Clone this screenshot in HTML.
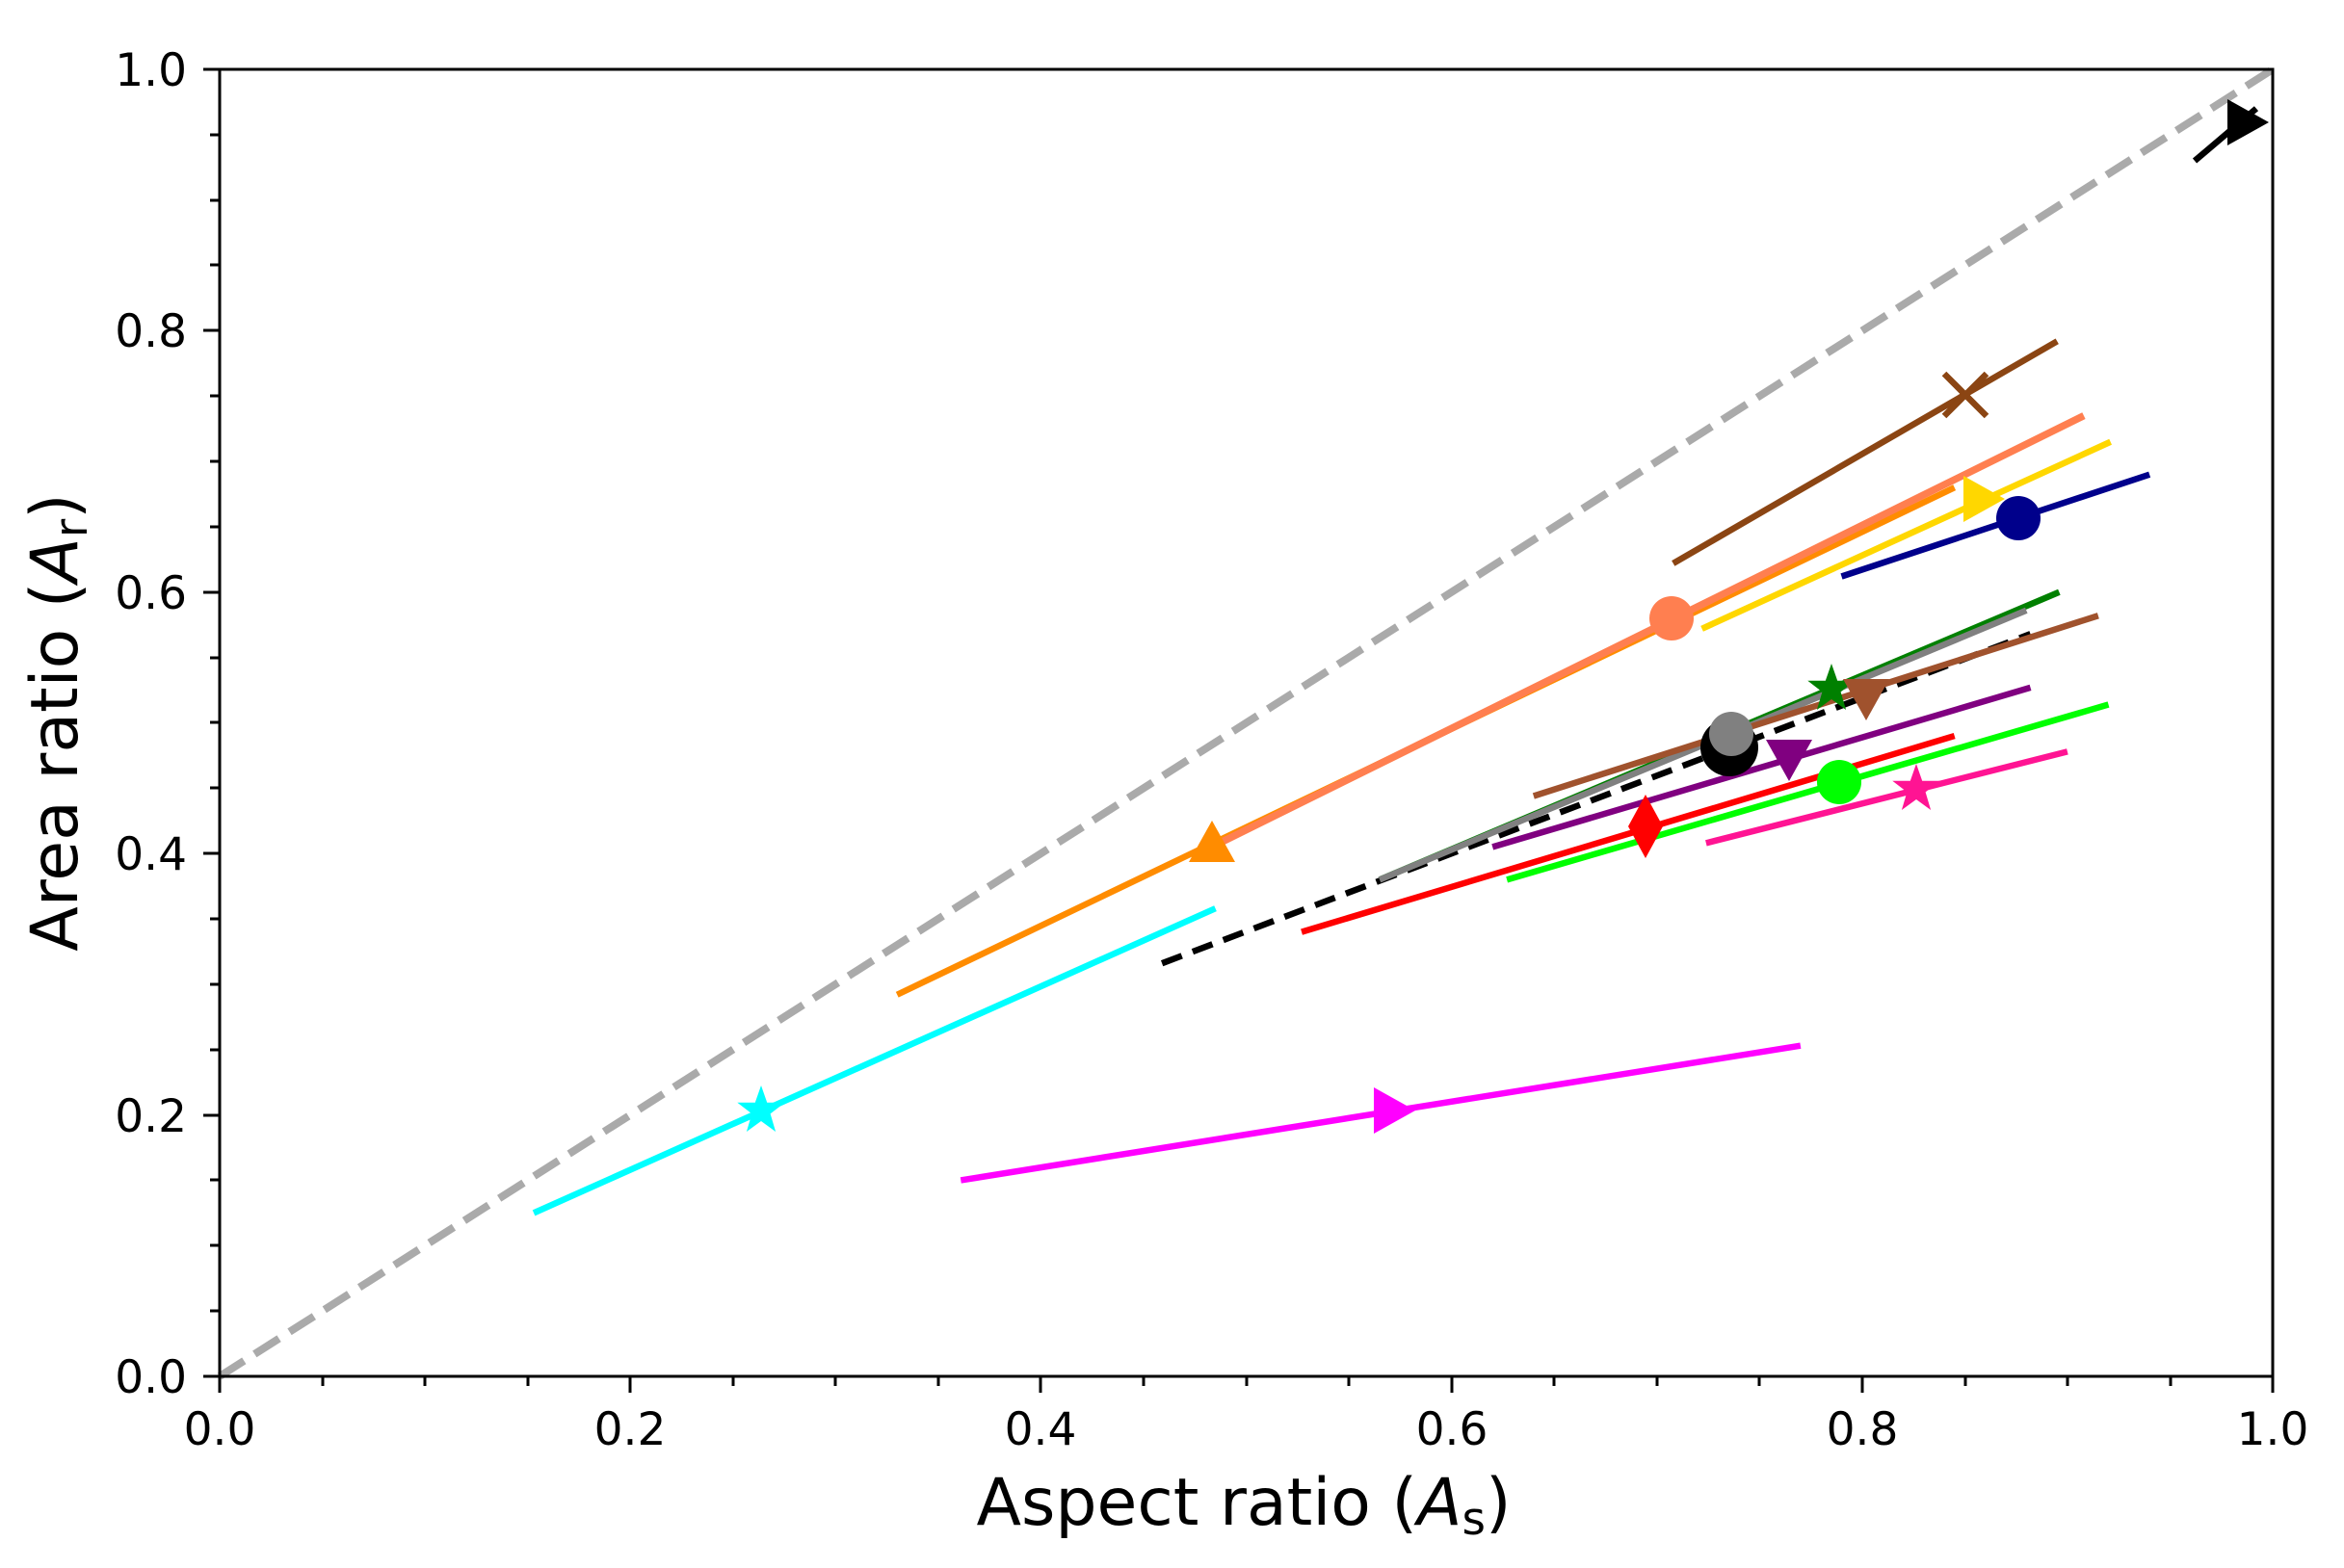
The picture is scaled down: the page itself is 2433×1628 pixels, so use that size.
<!DOCTYPE html>
<html><head><meta charset="utf-8"><style>
html,body{margin:0;padding:0;background:#fff}
svg{display:block}
text{font-family:"DejaVu Sans","Liberation Sans",sans-serif;fill:#000}
</style></head><body>
<svg width="2433" height="1628" viewBox="0 0 2433 1628" xmlns="http://www.w3.org/2000/svg">
<defs>
<g id="circ"><circle r="23"/></g>
<g id="tri"><polygon points="0,-26 24,17 -24,17"/></g>
<g id="tridn"><polygon points="0,26 24,-17 -24,-17"/></g>
<g id="trir"><polygon points="26,0 -17,-24 -17,24"/></g>
<g id="star"><polygon points="0,-26 6.2,-8.3 24.7,-8.3 9.6,3.4 15.1,22 0,11 -15.1,22 -9.6,3.4 -24.7,-8.3 -6.2,-8.3"/></g>
<g id="diam"><polygon points="0,-33 18,0 0,33 -18,0"/></g>
</defs>
<g transform="translate(228,1429) scale(2131,-1357)" fill="none" stroke-linecap="butt">
<line x1="0" y1="0" x2="0.999" y2="0.999" stroke="#aaaaaa" stroke-width="8" stroke-dasharray="30,13" vector-effect="non-scaling-stroke"/>
<line x1="0.153" y1="0.125" x2="0.485" y2="0.358" stroke="#00ffff" vector-effect="non-scaling-stroke" stroke-width="6.5"/>
<line x1="0.361" y1="0.150" x2="0.770" y2="0.253" stroke="#ff00ff" vector-effect="non-scaling-stroke" stroke-width="6.5"/>
<line x1="0.330" y1="0.292" x2="0.845" y2="0.680" stroke="#ff8c00" vector-effect="non-scaling-stroke" stroke-width="6.5"/>
<line x1="0.487" y1="0.408" x2="0.908" y2="0.735" stroke="#ff7f50" vector-effect="non-scaling-stroke" stroke-width="7.5"/>
<line x1="0.708" y1="0.622" x2="0.895" y2="0.792" stroke="#8b4513" vector-effect="non-scaling-stroke" stroke-width="6.5"/>
<line x1="0.722" y1="0.572" x2="0.921" y2="0.715" stroke="#ffd700" vector-effect="non-scaling-stroke" stroke-width="6.5"/>
<line x1="0.790" y1="0.612" x2="0.940" y2="0.690" stroke="#00008b" vector-effect="non-scaling-stroke" stroke-width="6.5"/>
<line x1="0.565" y1="0.380" x2="0.896" y2="0.600" stroke="#008000" vector-effect="non-scaling-stroke" stroke-width="6.5"/>
<line x1="0.459" y1="0.316" x2="0.882" y2="0.568" stroke="#000" stroke-dasharray="22,12" vector-effect="non-scaling-stroke" stroke-width="6.5"/>
<line x1="0.565" y1="0.380" x2="0.880" y2="0.586" stroke="#808080" vector-effect="non-scaling-stroke" stroke-width="6.5"/>
<line x1="0.640" y1="0.444" x2="0.915" y2="0.582" stroke="#a0522d" vector-effect="non-scaling-stroke" stroke-width="6.5"/>
<line x1="0.620" y1="0.405" x2="0.882" y2="0.527" stroke="#800080" vector-effect="non-scaling-stroke" stroke-width="6.5"/>
<line x1="0.527" y1="0.340" x2="0.845" y2="0.490" stroke="#ff0000" vector-effect="non-scaling-stroke" stroke-width="6.5"/>
<line x1="0.627" y1="0.380" x2="0.920" y2="0.514" stroke="#00ff00" vector-effect="non-scaling-stroke" stroke-width="6.5"/>
<line x1="0.724" y1="0.408" x2="0.900" y2="0.478" stroke="#ff1493" vector-effect="non-scaling-stroke" stroke-width="6.5"/>
<line x1="0.962" y1="0.930" x2="0.992" y2="0.970" stroke="#000" vector-effect="non-scaling-stroke" stroke-width="6.5"/>
</g>
<use href="#star" x="790" y="1153" fill="#00ffff"/>
<use href="#trir" x="1443" y="1153" fill="#ff00ff"/>
<use href="#tri" x="1258" y="878" fill="#ff8c00"/>
<use href="#circ" x="1735" y="642" fill="#ff7f50"/>
<g transform="translate(2040,410)" stroke="#8b4513" stroke-width="6.5"><line x1="-22" y1="-22" x2="22" y2="22"/><line x1="-22" y1="22" x2="22" y2="-22"/></g>
<use href="#trir" x="2055" y="518" fill="#ffd700"/>
<use href="#circ" x="2095" y="538" fill="#00008b"/>
<use href="#star" x="1901" y="715" fill="#008000"/>
<circle cx="1795" cy="776" r="30" fill="#000"/>
<use href="#circ" x="1797" y="762" fill="#808080"/>
<use href="#tridn" x="1937" y="722" fill="#a0522d"/>
<use href="#tridn" x="1857" y="785" fill="#800080"/>
<use href="#diam" x="1708" y="858" fill="#ff0000"/>
<use href="#circ" x="1909" y="812" fill="#00ff00"/>
<use href="#star" x="1989" y="819" fill="#ff1493"/>
<use href="#trir" x="2329" y="127" fill="#000"/>
<rect x="228" y="72" width="2131" height="1357" fill="none" stroke="#000" stroke-width="3"/>
<g stroke="#000" stroke-width="3">
<line x1="228" y1="1429" x2="228" y2="1446"/><line x1="654" y1="1429" x2="654" y2="1446"/><line x1="1080" y1="1429" x2="1080" y2="1446"/><line x1="1507" y1="1429" x2="1507" y2="1446"/><line x1="1933" y1="1429" x2="1933" y2="1446"/><line x1="2359" y1="1429" x2="2359" y2="1446"/>
<line x1="335" y1="1429" x2="335" y2="1439"/><line x1="441" y1="1429" x2="441" y2="1439"/><line x1="548" y1="1429" x2="548" y2="1439"/><line x1="761" y1="1429" x2="761" y2="1439"/><line x1="867" y1="1429" x2="867" y2="1439"/><line x1="974" y1="1429" x2="974" y2="1439"/><line x1="1187" y1="1429" x2="1187" y2="1439"/><line x1="1294" y1="1429" x2="1294" y2="1439"/><line x1="1400" y1="1429" x2="1400" y2="1439"/><line x1="1613" y1="1429" x2="1613" y2="1439"/><line x1="1720" y1="1429" x2="1720" y2="1439"/><line x1="1826" y1="1429" x2="1826" y2="1439"/><line x1="2040" y1="1429" x2="2040" y2="1439"/><line x1="2146" y1="1429" x2="2146" y2="1439"/><line x1="2253" y1="1429" x2="2253" y2="1439"/>
<line x1="211" y1="1429" x2="228" y2="1429"/><line x1="211" y1="1158" x2="228" y2="1158"/><line x1="211" y1="886" x2="228" y2="886"/><line x1="211" y1="615" x2="228" y2="615"/><line x1="211" y1="343" x2="228" y2="343"/><line x1="211" y1="72" x2="228" y2="72"/>
<line x1="218" y1="1361" x2="228" y2="1361"/><line x1="218" y1="1293" x2="228" y2="1293"/><line x1="218" y1="1225" x2="228" y2="1225"/><line x1="218" y1="1090" x2="228" y2="1090"/><line x1="218" y1="1022" x2="228" y2="1022"/><line x1="218" y1="954" x2="228" y2="954"/><line x1="218" y1="818" x2="228" y2="818"/><line x1="218" y1="750" x2="228" y2="750"/><line x1="218" y1="683" x2="228" y2="683"/><line x1="218" y1="547" x2="228" y2="547"/><line x1="218" y1="479" x2="228" y2="479"/><line x1="218" y1="411" x2="228" y2="411"/><line x1="218" y1="275" x2="228" y2="275"/><line x1="218" y1="208" x2="228" y2="208"/><line x1="218" y1="140" x2="228" y2="140"/>
</g>
<g font-size="47" text-anchor="middle">
<text x="228" y="1500">0.0</text><text x="654" y="1500">0.2</text><text x="1080" y="1500">0.4</text><text x="1507" y="1500">0.6</text><text x="1933" y="1500">0.8</text><text x="2359" y="1500">1.0</text>
</g>
<g font-size="47" text-anchor="end">
<text x="194" y="1446">0.0</text><text x="194" y="1175">0.2</text><text x="194" y="903">0.4</text><text x="194" y="632">0.6</text><text x="194" y="360">0.8</text><text x="194" y="89">1.0</text>
</g>
<text x="1291" y="1583" font-size="68" text-anchor="middle">Aspect ratio (<tspan font-style="italic">A</tspan><tspan font-size="47" dy="10">s</tspan><tspan dy="-10">)</tspan></text>
<text transform="translate(80,750) rotate(-90)" font-size="68" text-anchor="middle">Area ratio (<tspan font-style="italic">A</tspan><tspan font-size="47" dy="10">r</tspan><tspan dy="-10">)</tspan></text>
</svg>
</body></html>
